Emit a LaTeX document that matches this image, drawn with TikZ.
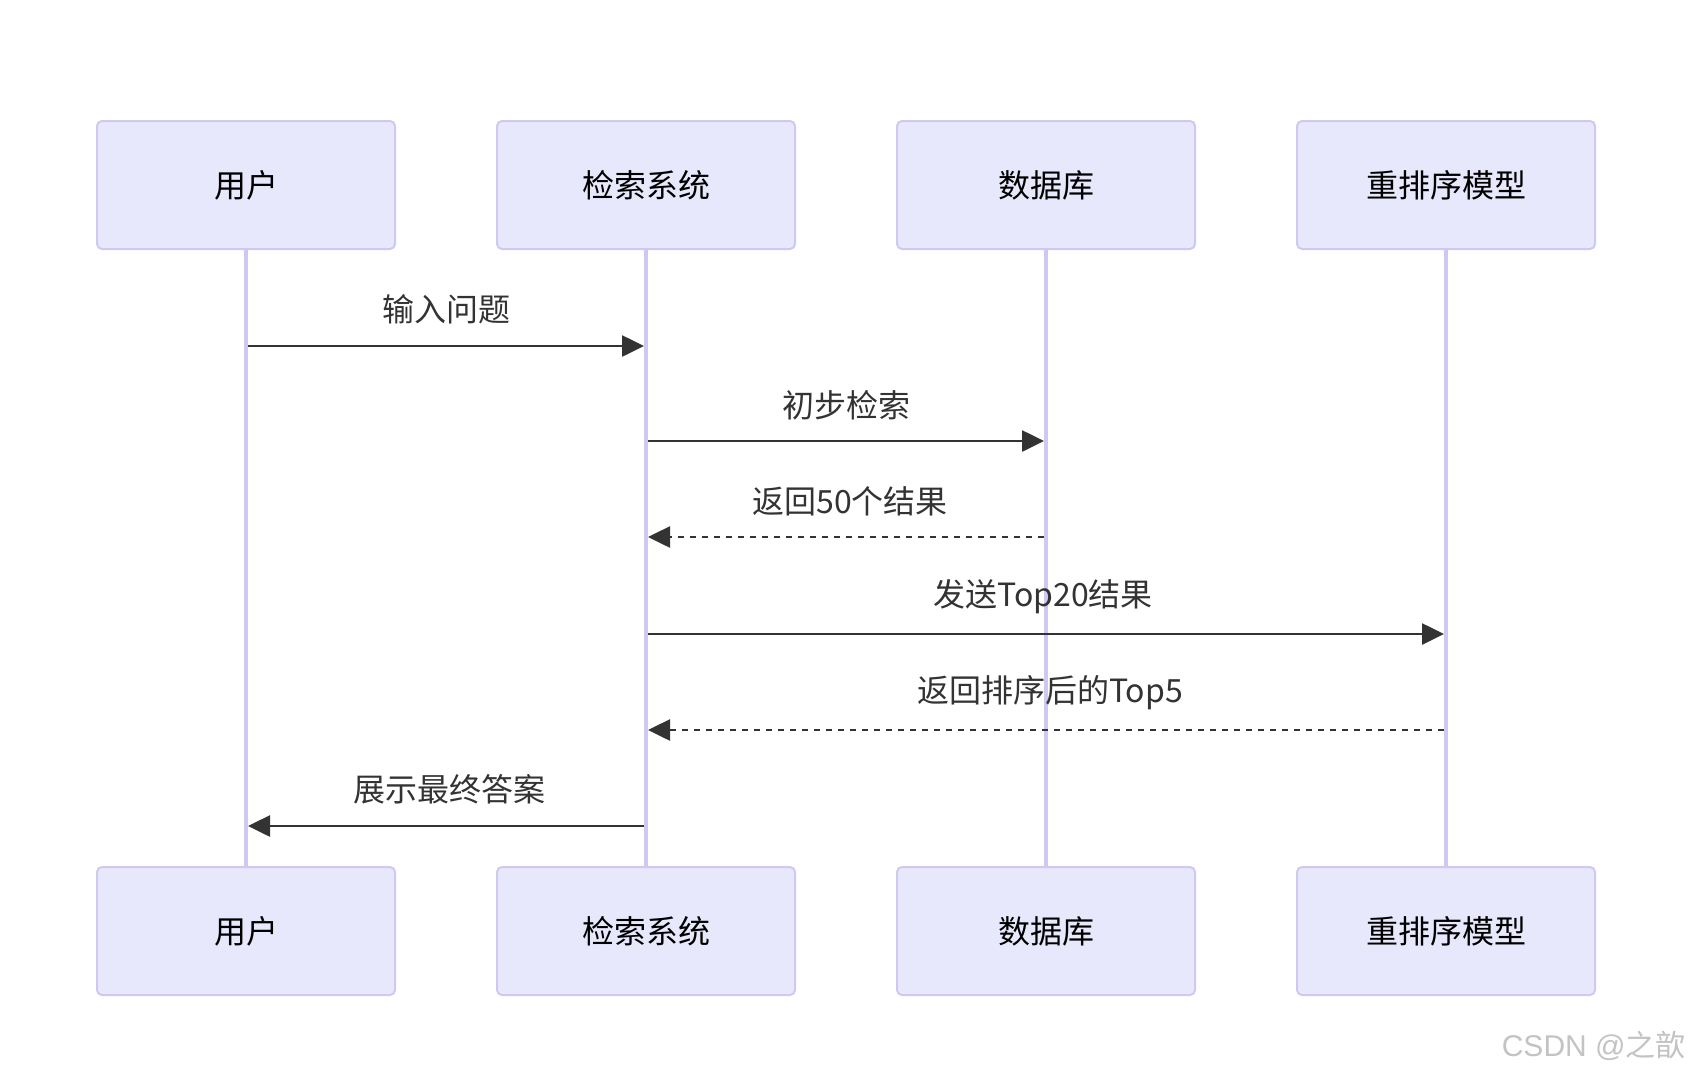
\documentclass[tikz,border=0pt]{standalone}
\usepackage{fontspec}
\setmainfont{Noto Sans CJK SC}
\newfontfamily\wmlatin{Liberation Sans}
\usetikzlibrary{arrows.meta}
\definecolor{actorfill}{RGB}{232,232,252}
\definecolor{actorline}{RGB}{208,200,240}
\definecolor{msgcol}{RGB}{51,51,51}
\definecolor{wmcol}{RGB}{195,195,195}
\begin{document}
\begin{tikzpicture}[x=0.5pt,y=-0.5pt,
  actor/.style={draw=actorline,fill=actorfill,line width=1pt,rounded corners=2.5pt,
    minimum width=149pt,minimum height=64pt,inner sep=0pt,font=\fontsize{16}{19}\selectfont,text=black},
  lifeline/.style={draw=actorline,line width=1.6pt},
  msg/.style={draw=msgcol,line width=1.3pt,-{Triangle[length=11pt,width=10.5pt]}},
  reply/.style={msg,dash pattern=on 3pt off 3pt},
  msglabel/.style={font=\fontsize{16}{19}\selectfont,text=msgcol,inner sep=0pt}]
\useasboundingbox (0,0) rectangle (1690,1076);
% actors top
\node[actor] (a1) at (246,185) {用户};
\node[actor] (a2) at (646,185) {检索系统};
\node[actor] (a3) at (1046,185) {数据库};
\node[actor] (a4) at (1446,185) {重排序模型};
% actors bottom
\node[actor] (b1) at (246,931) {用户};
\node[actor] (b2) at (646,931) {检索系统};
\node[actor] (b3) at (1046,931) {数据库};
\node[actor] (b4) at (1446,931) {重排序模型};
% lifelines
\draw[lifeline] (a1.south) -- (b1.north);
\draw[lifeline] (a2.south) -- (b2.north);
\draw[lifeline] (a3.south) -- (b3.north);
\draw[lifeline] (a4.south) -- (b4.north);
% message coordinates
\coordinate (m1s) at (248,346);  \coordinate (m1e) at (644,346);
\coordinate (m2s) at (648,441);  \coordinate (m2e) at (1044,441);
\coordinate (m3s) at (1044,537); \coordinate (m3e) at (648,537);
\coordinate (m4s) at (648,634);  \coordinate (m4e) at (1444,634);
\coordinate (m5s) at (1444,730); \coordinate (m5e) at (648,730);
\coordinate (m6s) at (644,826);  \coordinate (m6e) at (248,826);
% messages
\draw[msg] (m1s) -- (m1e);
\draw[msg] (m2s) -- (m2e);
\draw[reply] (m3s) -- (m3e);
\draw[msg] (m4s) -- (m4e);
\draw[reply] (m5s) -- (m5e);
\draw[msg] (m6s) -- (m6e);
% labels
\node[msglabel] (l1) at (446,309) {输入问题};
\node[msglabel] (l2) at (846,405) {初步检索};
\node[msglabel] (l3) at (850,501) {返回50个结果};
\node[msglabel] (l4) at (1043,597) {发送Top20结果};
\node[msglabel] (l5) at (1050,693) {返回排序后的Top5};
\node[msglabel] (l6) at (449,789) {展示最终答案};
% watermark
\node[anchor=east,inner sep=0pt,text=wmcol,font=\fontsize{15}{18}\selectfont] (wm) at (1686,1046) {{\wmlatin CSDN @}之歆};
\end{tikzpicture}
\end{document}
